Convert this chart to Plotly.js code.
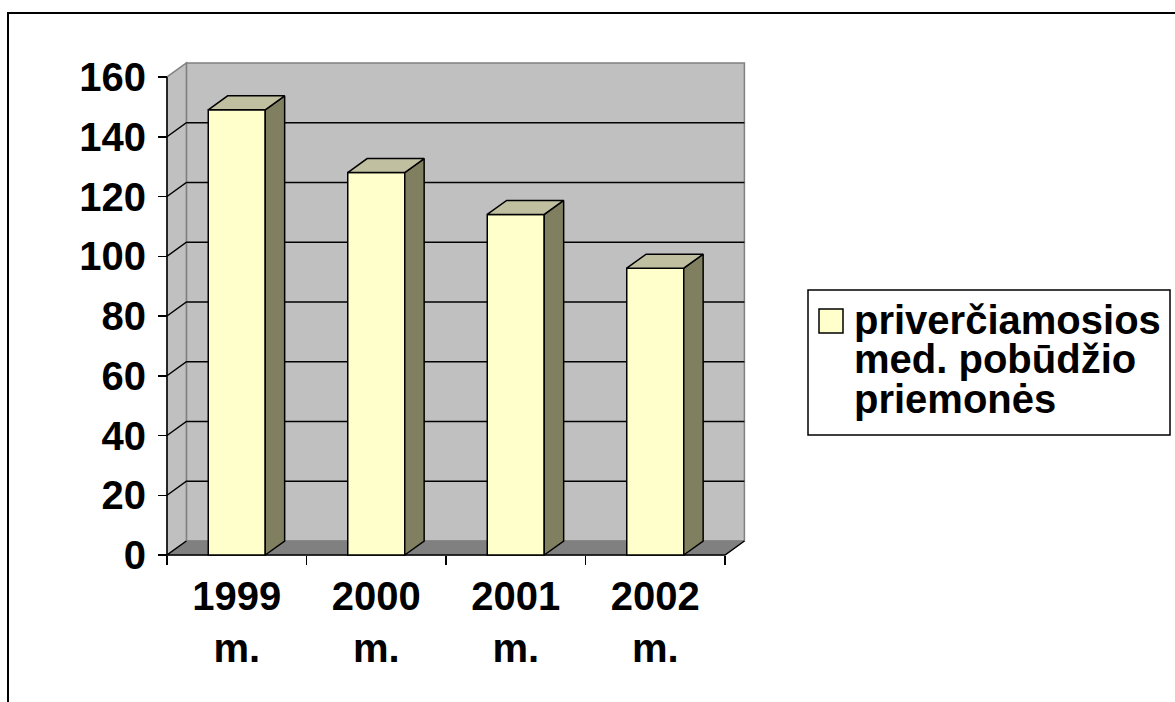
<!DOCTYPE html>
<html>
<head>
<meta charset="utf-8">
<script src="https://cdn.plot.ly/plotly-3.0.1.min.js"></script>
<style>html,body{margin:0;padding:0;background:#fff;}#chart{width:1175px;height:702px;}</style>
</head>
<body>
<div id="chart"></div>
<script>
// ---- data ----
const categories = ['1999 m.', '2000 m.', '2001 m.', '2002 m.'];
const tickLabels = ['1999<br>m.', '2000<br>m.', '2001<br>m.', '2002<br>m.'];
const values = [149, 128, 114, 96];
const seriesName = 'priverčiamosios med. pobūdžio priemonės';
const legendLines = ['priverčiamosios', 'med. pobūdžio', 'priemonės'];
const yTicks = [0, 20, 40, 60, 80, 100, 120, 140, 160];

// ---- geometry (pixels) ----
const W = 1175, H = 702;
const PX_CAT = 139.5, PX_UNIT = 2.9875;
const AX_X = 167, AX_Y = 555;
const DX = 19.4 / PX_CAT, DY = 14 / PX_UNIT;
const plotL = 162, plotR = 750, plotT = 58, plotB = 560;
const yMax = yTicks[yTicks.length - 1];
const n = categories.length;
const xLo = -0.5, xHi = n - 0.5;
const barW = 57 / PX_CAT;
const FONT = 'Liberation Sans, Arial, Helvetica, sans-serif';
const FSIZE = 40;

const xRange = [xLo - (AX_X - plotL) / PX_CAT, xLo + (plotR - AX_X) / PX_CAT];
const yRange = [-(plotB - AX_Y) / PX_UNIT, (AX_Y - plotT) / PX_UNIT];

const idx = categories.map((c, i) => i);

function pth(pts, close) {
  return 'M' + pts.map(p => p[0] + ',' + p[1]).join(' L') + (close ? ' Z' : '');
}

const shapes = [];
// outer chart border
shapes.push({type:'rect', xref:'paper', yref:'paper', x0: 8/W, x1: 1.02, y0: -0.02, y1: 1 - 13/H,
  line:{color:'#000', width:2}, fillcolor:'rgba(0,0,0,0)', layer:'below'});
// back wall
shapes.push({type:'path', xref:'x', yref:'y', layer:'below',
  path: pth([[xLo+DX, DY],[xHi+DX, DY],[xHi+DX, yMax+DY],[xLo+DX, yMax+DY]], true),
  fillcolor:'#C0C0C0', line:{color:'#808080', width:1.5}});
// side wall
shapes.push({type:'path', xref:'x', yref:'y', layer:'below',
  path: pth([[xLo, 0],[xLo+DX, DY],[xLo+DX, yMax+DY],[xLo, yMax]], true),
  fillcolor:'#C0C0C0', line:{color:'#808080', width:1.5}});
// floor
shapes.push({type:'path', xref:'x', yref:'y', layer:'below',
  path: pth([[xLo, 0],[xHi, 0],[xHi+DX, DY],[xLo+DX, DY]], true),
  fillcolor:'#808080', line:{color:'#808080', width:1}});
shapes.push({type:'path', xref:'x', yref:'y', layer:'below',
  path: pth([[xLo+DX, DY],[xLo, 0],[xHi, 0],[xHi+DX, DY]], false),
  line:{color:'#000', width:1.5}});
// side wall front edge
shapes.push({type:'path', xref:'x', yref:'y', layer:'below',
  path: pth([[xLo, 0],[xLo, yMax]], false), line:{color:'#000', width:1.5}});
// gridlines
yTicks.forEach(v => {
  if (v > 0 && v < yMax) {
    shapes.push({type:'path', xref:'x', yref:'y', layer:'below',
      path: pth([[xLo, v],[xLo+DX, v+DY],[xHi+DX, v+DY]], false),
      line:{color:'#000', width:1.5}});
  }
});

// legend box
const lgL = 808, lgR = 1170, lgT = 290, lgB = 435;
shapes.push({type:'rect', xref:'paper', yref:'paper', x0: lgL/W, x1: lgR/W, y0: 1-lgB/H, y1: 1-lgT/H,
  line:{color:'#000', width:1.5}, fillcolor:'#fff'});
shapes.push({type:'rect', xref:'paper', yref:'paper', x0: 819/W, x1: 843/W, y0: 1-333/H, y1: 1-309/H,
  line:{color:'#000', width:1.5}, fillcolor:'#FFFFCC'});

const legendCenters = [320, 359, 398.5];
const annotations = legendLines.map((t, i) => ({
  xref:'paper', yref:'paper', x: 852/W, y: 1 - legendCenters[i]/H,
  xanchor:'left', yanchor:'middle', showarrow:false, text: t,
  font:{family: FONT, size: FSIZE, color:'#000', weight: 700}
}));

// bar 3D faces
const topX = [], topY = [], sideX = [], sideY = [];
values.forEach((v, i) => {
  const xl = idx[i] - barW/2, xr = idx[i] + barW/2;
  [[xl, v],[xr, v],[xr+DX, v+DY],[xl+DX, v+DY],[xl, v]].forEach(p => { topX.push(p[0]); topY.push(p[1]); });
  topX.push(null); topY.push(null);
  [[xr, 0],[xr+DX, DY],[xr+DX, v+DY],[xr, v],[xr, 0]].forEach(p => { sideX.push(p[0]); sideY.push(p[1]); });
  sideX.push(null); sideY.push(null);
});

const traces = [
  {type:'bar', x: idx, y: values, width: barW, name: seriesName,
   marker:{color:'#FFFFCC', line:{color:'#000', width:1.5}}, showlegend:false, hoverinfo:'skip'},
  {type:'scatter', mode:'lines', x: sideX, y: sideY, fill:'toself', fillcolor:'#808060',
   line:{color:'#000', width:1.5}, showlegend:false, hoverinfo:'skip'},
  {type:'scatter', mode:'lines', x: topX, y: topY, fill:'toself', fillcolor:'#C0C0A0',
   line:{color:'#000', width:1.5}, showlegend:false, hoverinfo:'skip'},
  {type:'scatter', mode:'markers', x:[0], y:[0], xaxis:'x2', marker:{opacity:0}, showlegend:false, hoverinfo:'skip'}
];

const tickFont = {family: FONT, size: FSIZE, color:'#000', weight: 700};
const layout = {
  width: W, height: H,
  margin:{l:0, r:0, t:0, b:0},
  paper_bgcolor:'#fff', plot_bgcolor:'rgba(0,0,0,0)',
  showlegend:false,
  xaxis:{domain:[plotL/W, plotR/W], range: xRange, anchor:'free', position: 1 - AX_Y/H,
    tickmode:'array', tickvals: idx, ticktext: tickLabels, ticks:'', showgrid:false, zeroline:false,
    showline:false, tickfont: tickFont, ticklabelstandoff: 14, fixedrange:true},
  xaxis2:{overlaying:'x', domain:[plotL/W, plotR/W], range: xRange, anchor:'free', position: 1 - AX_Y/H,
    side:'bottom', tickmode:'array', tickvals: [-0.5, 0.5, 1.5, 2.5, 3.5], ticks:'outside', ticklen: 9,
    tickwidth: 1.5, tickcolor:'#000', showticklabels:false, showgrid:false, zeroline:false, showline:false},
  yaxis:{domain:[1 - plotB/H, 1 - plotT/H], range: yRange, anchor:'free', position: AX_X/W,
    tickmode:'array', tickvals: yTicks, ticktext: yTicks.map(String), ticks:'outside', ticklen: 9,
    tickwidth: 1.5, tickcolor:'#000', showgrid:false, zeroline:false, showline:false,
    tickfont: tickFont, ticklabelstandoff: 4},
  shapes: shapes,
  annotations: annotations
};

Plotly.newPlot('chart', traces, layout, {staticPlot:true, displayModeBar:false});
</script>
</body>
</html>
